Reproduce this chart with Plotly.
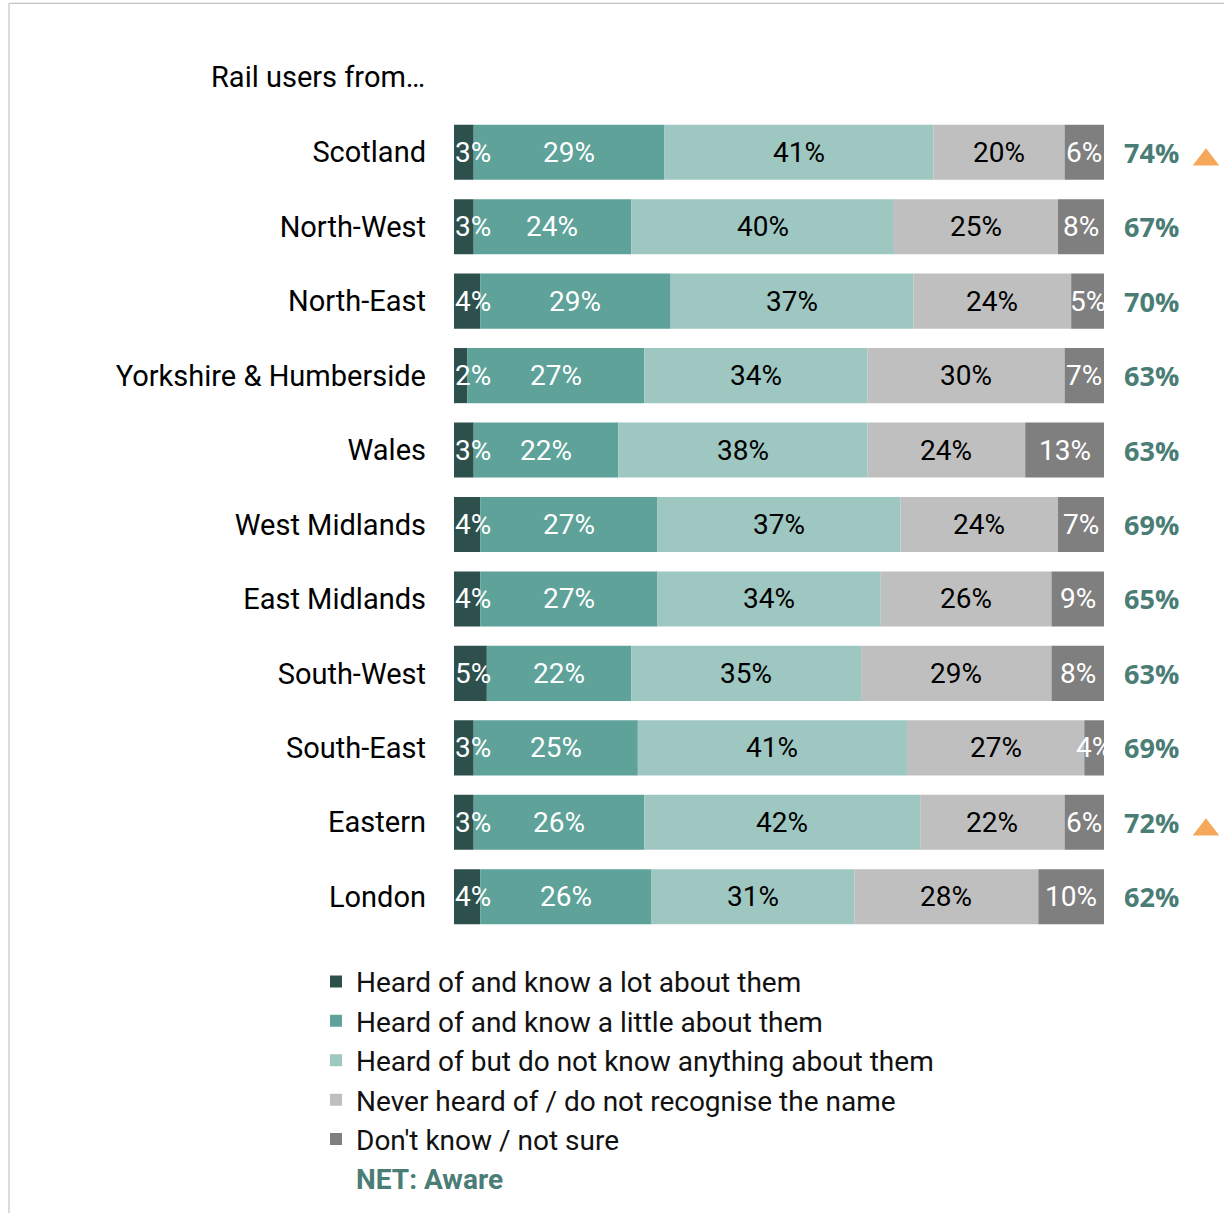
import plotly.graph_objects as go

regions = ["Scotland", "North-West", "North-East", "Yorkshire & Humberside", "Wales",
           "West Midlands", "East Midlands", "South-West", "South-East", "Eastern", "London"]

know_lot = [3, 3, 4, 2, 3, 4, 4, 5, 3, 3, 4]
know_little = [29, 24, 29, 27, 22, 27, 27, 22, 25, 26, 26]
heard_only = [41, 40, 37, 34, 38, 37, 34, 35, 41, 42, 31]
never_heard = [20, 25, 24, 30, 24, 24, 26, 29, 27, 22, 28]
dont_know = [6, 8, 5, 7, 13, 7, 9, 8, 4, 6, 10]
net_aware = [74, 67, 70, 63, 63, 69, 65, 63, 69, 72, 62]
sig_higher = ["Scotland", "Eastern"]

series = [
    ("Heard of and know a lot about them", know_lot, "#2e504d", "white"),
    ("Heard of and know a little about them", know_little, "#5ea299", "white"),
    ("Heard of but do not know anything about them", heard_only, "#9fc7c2", "black"),
    ("Never heard of / do not recognise the name", never_heard, "#bfbfbf", "black"),
    ("Don't know / not sure", dont_know, "#7f7f7f", "white"),
]

FONT = "Roboto"
NET_COLOR = "#4a7d76"
W, H = 1224, 1213
PL, PR, PT, PB = 454, 1224, 114.75, 934.25   # plot area in pixels
AXIS_MAX = 99                                 # bars are cut off at the axis maximum
UNIT = 650 / AXIS_MAX                         # px per percentage point
XMAX = (PR - PL) / UNIT


def px(x):
    return (x - PL) / (PR - PL)


def py(y):
    return (PB - y) / (PB - PT)


fig = go.Figure()
annotations = []
left = [0] * len(regions)
for i, (name, vals, color, tcolor) in enumerate(series):
    shown = [min(v, AXIS_MAX - b) for v, b in zip(vals, left)]
    fig.add_trace(go.Bar(
        name=name, y=regions, x=shown, base=left, orientation="h",
        marker=dict(color=color, line=dict(width=0)),
        legendgroup=name, hoverinfo="skip",
    ))
    for r, v, s, b in zip(regions, vals, shown, left):
        if i == 0:
            annotations.append(dict(x=0, y=r, xref="x", yref="y", text=f"{v}%", showarrow=False,
                                    xanchor="left", xshift=-1,
                                    font=dict(family=FONT, size=28, color=tcolor)))
        else:
            annotations.append(dict(x=b + s / 2, y=r, xref="x", yref="y", text=f"{v}%",
                                    showarrow=False, xanchor="center",
                                    font=dict(family=FONT, size=28, color=tcolor)))
    left = [a + b for a, b in zip(left, vals)]

# NET: Aware values
for r, n in zip(regions, net_aware):
    annotations.append(dict(x=(1151 - PL) / UNIT, y=r, xref="x", yref="y", text=f"<b>{n}%</b>",
                            showarrow=False, xanchor="center",
                            font=dict(family="Open Sans", size=27, color=NET_COLOR)))

# significance markers (sit a little below the row centre)
fig.add_trace(go.Scatter(
    x=[(1206 - PL) / UNIT] * len(sig_higher), y=[regions.index(r) + 0.1 for r in sig_higher],
    yaxis="y2", mode="markers", marker=dict(symbol="triangle-up", size=23, color="#f5a85a"),
    cliponaxis=False, showlegend=False, hoverinfo="skip",
))

# legend entry for NET
fig.add_trace(go.Scatter(
    x=[None], y=[None], mode="markers", marker=dict(color="rgba(0,0,0,0)", size=1),
    name=f"<span style='color:{NET_COLOR}'><b>NET: Aware</b></span>",
    legendgroup="net", hoverinfo="skip",
))

annotations.append(dict(x=px(427), y=py(77), xref="paper", yref="paper",
                        text="Rail users from…", showarrow=False, xanchor="right", yanchor="middle",
                        font=dict(family=FONT, size=29, color="black")))

shapes = [
    dict(type="line", xref="paper", yref="paper", x0=px(9), x1=px(9), y0=py(W), y1=py(3),
         line=dict(color="#c4c4c4", width=1.2)),
    dict(type="line", xref="paper", yref="paper", x0=px(9), x1=px(W), y0=py(3), y1=py(3),
         line=dict(color="#c4c4c4", width=1.2)),
]

fig.update_layout(
    barmode="overlay", bargap=0.26,
    width=W, height=H,
    margin=dict(l=PL, r=W - PR, t=PT, b=H - PB, autoexpand=False),
    paper_bgcolor="white", plot_bgcolor="white",
    font=dict(family=FONT, color="black"),
    annotations=annotations, shapes=shapes,
    showlegend=True,
    legend=dict(x=px(316), y=py(957), xanchor="left", yanchor="top",
                font=dict(family=FONT, size=28, color="#111111"), tracegroupgap=0,
                bgcolor="rgba(0,0,0,0)", traceorder="normal"),
    yaxis2=dict(overlaying="y", range=[len(regions) - 0.5, -0.5], visible=False, fixedrange=True),
)
fig.update_xaxes(range=[0, XMAX], visible=False, fixedrange=True)
fig.update_yaxes(range=[len(regions) - 0.5, -0.5], showgrid=False, showline=False, ticks="",
                 zeroline=False, tickfont=dict(family=FONT, size=29, color="black"),
                 ticklabelstandoff=27, fixedrange=True, selector=dict(overlaying=None))

fig.write_html("out.html", config={"displayModeBar": False},
               post_script="document.body.style.margin='0px';")
